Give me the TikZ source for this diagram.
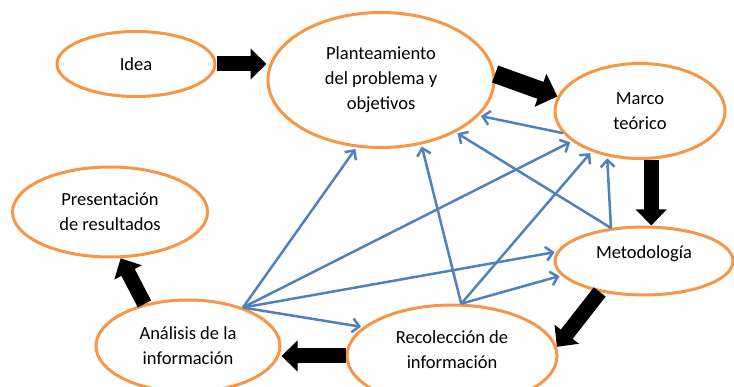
\documentclass[tikz,border=0pt]{standalone}
\usepackage{fontspec}
\setmainfont{Carlito}
\usetikzlibrary{shapes.geometric,arrows.meta}
\definecolor{oforange}{HTML}{F79646}
\definecolor{ofblue}{HTML}{4F81BD}
\tikzset{
  ovaltext/.style={font=\fontsize{18.5pt}{25pt}\selectfont, text=black, align=center},
  oval/.style={ellipse, draw=oforange, line width=3pt, fill=white, inner sep=0pt, ovaltext},
  blockarrow/.style={line width=15pt, draw=black, -{Triangle[width=30pt,length=16pt]}},
  bigblockarrow/.style={line width=18pt, draw=black, -{Triangle[width=34pt,length=18pt]}},
  bluearrow/.style={line width=2.5pt, draw=ofblue, -{Straight Barb[length=7pt,width=14pt,line width=2.5pt]}, shorten >=2pt}
}
\begin{document}
\begin{tikzpicture}[x=1pt,y=-1pt]
\useasboundingbox (0,0) rectangle (734,387);
\clip (0,0) rectangle (734,387);
% ellipses
\node[oval, minimum width=158pt, minimum height=65pt] (idea) at (136,64) {Idea};
\node[oval, minimum width=226pt, minimum height=135pt] (plan) at (381,80) {Planteamiento\\del problema y\\objetivos};
\node[oval, minimum width=170pt, minimum height=95pt] (marco) at (640,111) {Marco\\teórico};
\node[oval, minimum width=195pt, minimum height=90pt] (pres) at (110,212) {Presentación\\de resultados};
\node[oval, minimum width=178pt, minimum height=68pt] (metod) at (644,261) {};
\node[ovaltext, anchor=center] (metodT) at (644,254) {Metodología};
\node[oval, minimum width=184pt, minimum height=92pt] (anal) at (188,346) {Análisis de la\\información};
\node[oval, minimum width=210pt, minimum height=102pt] (recol) at (452,356) {};
\node[ovaltext, anchor=center] (recolT) at (452,350) {Recolección de\\información};
% blue arrows
\draw[bluearrow] (anal.35) -- (plan.250);
\draw[bluearrow] (anal.35) -- (marco.204);
\draw[bluearrow] (anal.35) -- (metod.174);
\draw[bluearrow] (anal.35) -- (recol.162);
\draw[bluearrow] (recol.80) -- (plan.302);
\draw[bluearrow] (recol.80) -- (marco.220);
\draw[bluearrow] (recol.80) -- (metod.190);
\draw[bluearrow] (metod.135) -- (plan.325);
\draw[bluearrow] (metod.135) -- (marco.234);
\draw[bluearrow] (marco.196) -- (plan.340);
% black block arrows
\draw[blockarrow] (idea.east) -- (idea.east -| plan.west);
\draw[bigblockarrow] (plan.3) -- (marco.170);
\draw[blockarrow] (marco.283) -- (marco.283 |- metod.north);
\draw[blockarrow] (metod.215) -- (recol.5);
\draw[blockarrow] (recol.west) -- (recol.west -| anal.east);
\draw[blockarrow] (anal.136) -- (pres.283);
\end{tikzpicture}
\end{document}
